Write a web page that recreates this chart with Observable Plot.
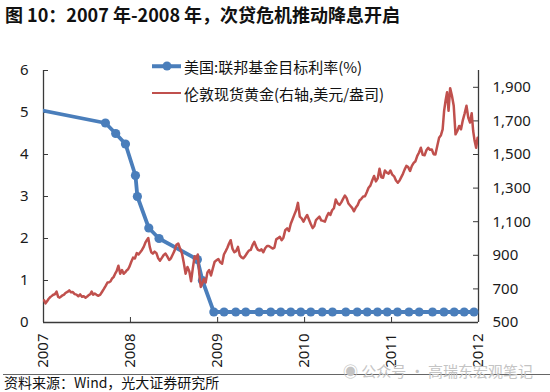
<!DOCTYPE html>
<html>
<head>
<meta charset="utf-8">
<script src="https://cdn.jsdelivr.net/npm/d3@7"></script>
<script src="https://cdn.jsdelivr.net/npm/@observablehq/plot@0.6"></script>
<style>
  html, body { margin: 0; padding: 0; background: #fff; }
  #wrap { position: relative; width: 550px; height: 392px; overflow: hidden; font-family: "Noto Sans CJK SC", "Noto Sans", sans-serif; color: #111; }
  #title { position: absolute; left: 5px; top: 2px; font-size: 18px; font-weight: bold; line-height: 24px; white-space: nowrap; }
  #chart { position: absolute; left: 0; top: 30px; }
  #chart svg { overflow: visible; }
  .leg { position: absolute; left: 152px; height: 20px; display: flex; align-items: center; font-size: 15px; white-space: nowrap; }
  .sw { position: relative; width: 29px; height: 20px; margin-right: 3px; }
  .sw .ln { position: absolute; left: 0; right: 0; top: 50%; transform: translateY(-50%); }
  .sw .dt { position: absolute; left: 50%; top: 50%; width: 9px; height: 9px; border-radius: 50%; transform: translate(-50%, -50%); }
  #rule { position: absolute; left: 3px; right: 0; top: 374px; border-top: 1px solid #666; }
  #source { position: absolute; left: 4px; top: 374px; font-size: 14px; line-height: 17px; white-space: nowrap; }
  #wm { position: absolute; left: 343px; top: 361px; font-size: 15px; color: #c4c4c4; white-space: nowrap; line-height: 20px; }
</style>
</head>
<body>
<div id="wrap">
  <div id="title">图 10：2007 年-2008 年，次贷危机推动降息开启</div>
  <div id="chart"></div>
  <div class="leg" id="leg1" style="top:56px"></div>
  <div class="leg" id="leg2" style="top:83px"></div>
  <div id="rule"></div>
  <div id="wm">&#9673; 公众号 · 高瑞东宏观笔记</div>
  <div id="source">资料来源：Wind，光大证券研究所</div>
</div>
<script>
// ---------- data ----------
const seriesNames = ["美国:联邦基金目标利率(%)", "伦敦现货黄金(右轴,美元/盎司)"];
const seriesColors = ["#4a7ebb", "#c0504d"];

const fedDates = ["2006-06-29","2007-09-18","2007-10-31","2007-12-11","2008-01-22","2008-01-30","2008-03-18","2008-04-30","2008-10-08","2008-10-29","2008-12-16",
  "2009-01-28","2009-03-18","2009-04-29","2009-06-24","2009-08-12","2009-09-23","2009-11-04","2009-12-16",
  "2010-01-27","2010-03-16","2010-04-28","2010-06-23","2010-08-10","2010-09-21","2010-11-03","2010-12-14",
  "2011-01-26","2011-03-15","2011-04-27","2011-06-22","2011-08-09","2011-09-21","2011-11-02","2011-12-13"];
const fedRates = [5.25,4.75,4.5,4.25,3.5,3.0,2.25,2.0,1.5,1.0,0.25,
  0.25,0.25,0.25,0.25,0.25,0.25,0.25,0.25,
  0.25,0.25,0.25,0.25,0.25,0.25,0.25,0.25,
  0.25,0.25,0.25,0.25,0.25,0.25,0.25,0.25];

const goldMonths = ["2007-01","2007-02","2007-03","2007-04","2007-05","2007-06","2007-07","2007-08","2007-09","2007-10","2007-11","2007-12",
  "2008-01","2008-02","2008-03","2008-04","2008-05","2008-06","2008-07","2008-08","2008-09","2008-10","2008-11","2008-12",
  "2009-01","2009-02","2009-03","2009-04","2009-05","2009-06","2009-07","2009-08","2009-09","2009-10","2009-11","2009-12",
  "2010-01","2010-02","2010-03","2010-04","2010-05","2010-06","2010-07","2010-08","2010-09","2010-10","2010-11","2010-12",
  "2011-01","2011-02","2011-03","2011-04","2011-05","2011-06","2011-07","2011-08","2011-09","2011-10","2011-11","2011-12"];
const goldWeekly = [
  [632,614,626,640,650],[657,665,668,684],[652,648,655,662,666],[677,682,691,680],[681,669,666,656],[667,653,656,648],
  [655,663,668,684,666],[672,665,659,666],[683,700,718,738],[740,746,762,770,789],[806,838,790,812],[790,798,810,817,834],
  [860,886,881,913],[905,918,932,950],[975,990,1003,950,918],[910,922,913,882],[868,885,902,910],[892,872,882,905],
  [928,962,970,940],[912,855,790,830],[805,745,825,895],[880,905,790,712,730],[760,738,798,812],[780,822,862,870],
  [878,858,850,905],[925,945,970,990],[940,918,925,950],[900,888,882,895],[912,928,932,960],[980,952,932,928],
  [935,918,942,955],[955,948,940,946],[995,1002,1010,990],[1005,1050,1060,1045],[1088,1115,1142,1168],[1212,1130,1120,1100],
  [1122,1140,1112,1085],[1062,1075,1110,1120],[1130,1108,1105,1100],[1130,1152,1140,1168],[1180,1232,1210,1200],[1215,1236,1256,1240],
  [1208,1195,1182,1162],[1185,1200,1226,1236],[1250,1252,1275,1302],[1315,1345,1372,1340],[1358,1415,1365,1362],[1405,1392,1386,1405],
  [1380,1370,1345,1332],[1345,1365,1385,1410],[1432,1425,1402,1432],[1450,1460,1492,1512],[1540,1498,1495,1525],[1540,1528,1530,1502],
  [1500,1550,1600,1615],[1650,1760,1822,1870,1760],[1895,1850,1790,1620],[1640,1670,1650,1705],[1745,1790,1720,1690],[1745,1640,1580,1540,1600]
];

const leftTicks = [0,1,2,3,4,5,6];
const goldTicks = [500,700,900,1100,1300,1500,1700,1900];
const yearTicks = ["2007","2008","2009","2010","2011","2012"];
const xDomain = ["2007-01-01","2012-01-01"];
const goldDomain = [500, 2000];

// ---------- build tables ----------
const parse = d3.utcParse("%Y-%m-%d");
const fed = fedDates.map((d, i) => ({date: parse(d), rate: fedRates[i]}));
const gold = [];
goldMonths.forEach((m, i) => {
  const start = d3.utcParse("%Y-%m")(m);
  const end = d3.utcMonth.offset(start, 1);
  const vals = goldWeekly[i];
  vals.forEach((v, j) => gold.push({date: new Date(+start + (end - start) * (j + 0.4) / vals.length), value: v}));
});
const x0 = parse(xDomain[0]), x1 = parse(xDomain[1]);
// secondary axis mapped onto left scale
const g2y = d3.scaleLinear(goldDomain, [0, 6]);
const years = yearTicks.map(y => d3.utcParse("%Y")(y));

const axisColor = "#3a3a3a";
const W = 550, H = 338, ML = 43, MR = 72, MT = 40, MB = 46;
const innerW = W - ML - MR, innerH = H - MT - MB, tick = 5;

const chart = Plot.plot({
  width: W, height: H,
  marginLeft: ML, marginRight: MR, marginTop: MT, marginBottom: MB,
  x: {type: "utc", domain: [x0, x1]},
  y: {domain: [0, 6]},
  style: {fontFamily: "'Noto Sans', sans-serif", fontSize: "15px", color: "#1a1a1a", background: "transparent", overflow: "visible"},
  marks: [
    Plot.axisY(leftTicks, {anchor: "left", tickSize: 0, tickPadding: 15, label: null, fontSize: 15}),
    Plot.axisY(goldTicks.map(g2y), {anchor: "right", tickSize: 0, tickPadding: 14, label: null, fontSize: 15,
      tickFormat: d => d3.format(",")(Math.round(g2y.invert(d)))}),
    Plot.axisX(years, {anchor: "bottom", tickSize: 0, tickPadding: 11, tickRotate: -90, label: null, fontSize: 15,
      tickFormat: d3.utcFormat("%Y")}),
    Plot.tickX(years, {x: d => d, stroke: axisColor, insetTop: innerH - tick}),
    Plot.tickY(leftTicks, {y: d => d, stroke: axisColor, insetRight: innerW - tick}),
    Plot.tickY(goldTicks, {y: g => g2y(g), stroke: axisColor, insetLeft: innerW - tick}),
    Plot.ruleX([x0, x1], {stroke: axisColor, strokeWidth: 1.3}),
    Plot.ruleY([0], {stroke: axisColor, strokeWidth: 1.3}),
    Plot.line(fed, {x: "date", y: "rate", stroke: seriesColors[0], strokeWidth: 3.8, clip: true}),
    Plot.dot(fed.filter(d => d.date >= x0), {x: "date", y: "rate", r: 4.6, fill: seriesColors[0], stroke: "none"}),
    Plot.line(gold, {x: "date", y: d => g2y(d.value), stroke: seriesColors[1], strokeWidth: 2.5, clip: true})
  ]
});
document.getElementById("chart").appendChild(chart);

// ---------- legend ----------
function legend(id, i, dot) {
  const el = document.getElementById(id);
  const sw = document.createElement("div");
  sw.className = "sw";
  sw.innerHTML = `<div class="ln" style="height:${dot ? 3.5 : 2}px;background:${seriesColors[i]}"></div>` +
    (dot ? `<div class="dt" style="background:${seriesColors[i]}"></div>` : "");
  el.appendChild(sw);
  const t = document.createElement("span");
  t.textContent = seriesNames[i];
  el.appendChild(t);
}
legend("leg1", 0, true);
legend("leg2", 1, false);
</script>
</body>
</html>
